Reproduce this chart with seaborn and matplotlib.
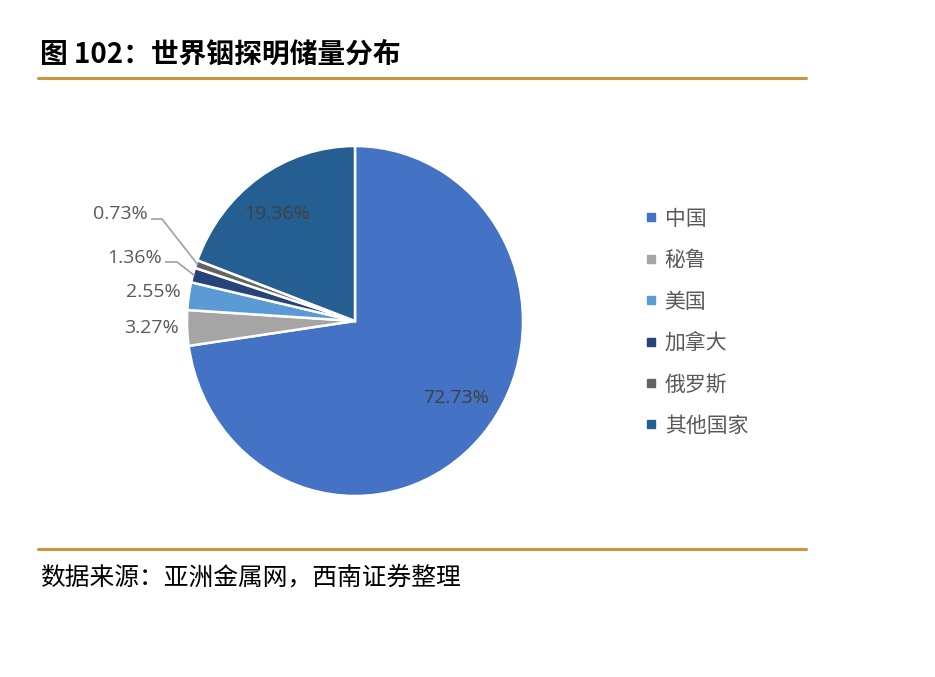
import numpy as np
import matplotlib
matplotlib.use("Agg")
import matplotlib.pyplot as plt
import seaborn as sns
from matplotlib.lines import Line2D

# ---- data ----
categories = ["中国", "秘鲁", "美国", "加拿大", "俄罗斯", "其他国家"]
shares = [72.73, 3.27, 2.55, 1.36, 0.73, 19.36]
colors = ["#4472C4", "#A5A5A5", "#5B9BD5", "#264478", "#636363", "#255E91"]
title_text = "图 102：世界铟探明储量分布"
source_text = "数据来源：亚洲金属网，西南证券整理"

sns.set_theme(style="white")
plt.rcParams["font.family"] = ["Noto Sans CJK SC", "DejaVu Sans"]

W, H = 935, 677
fig = plt.figure(figsize=(W / 100, H / 100), dpi=100)
fig.patch.set_facecolor("white")

def fx(px):
    return px / W

def fy(py):
    return 1 - py / H

# header / footer
fig.text(fx(40), fy(55), title_text, fontsize=20, fontweight="bold",
         color="black", va="center", ha="left")
gold = "#C8963E"
fig.add_artist(Line2D([fx(38), fx(806)], [fy(78), fy(78)], color=gold, lw=2.2))
fig.add_artist(Line2D([fx(38), fx(806)], [fy(549), fy(549)], color=gold, lw=2.2))
fig.text(fx(40), fy(578), source_text, fontsize=17.8, color="black",
         va="center", ha="left", style="italic")

# pie axes: center pixel (355,321), radii 168 (x) and 175 (y)
cx, cy, rx, ry = 355, 321, 168, 175
half = 220
ax = fig.add_axes([fx(cx - half), fy(cy + half), 2 * half / W, 2 * half / H])
palette = sns.color_palette(colors)
wedges, _ = ax.pie(shares, colors=palette, startangle=90, counterclock=False,
                   wedgeprops=dict(edgecolor="white", linewidth=1.8))
ax.set_aspect("auto")
ax.set_xlim(-half / rx, half / rx)
ax.set_ylim(-half / ry, half / ry)
ax.axis("off")

def d(px, py):
    return ((px - cx) / rx, (cy - py) / ry)

num_font = ["Open Sans", "DejaVu Sans"]
lab_color = "#595959"
fs = 14

# angles of wedge centres
cum = np.cumsum([0] + shares)
mids = [90 - 360 * (cum[i] + cum[i + 1]) / 200 for i in range(len(shares))]

def fmt(v):
    return f"{v:.2f}%"

# inside labels
for i, pos in [(0, (456, 398)), (5, (277, 214))]:
    ax.text(*d(*pos), fmt(shares[i]), ha="center", va="center",
            fontsize=fs, color="#404040", family=num_font)

# outside labels
outside = {1: (179, 328), 2: (181, 292), 3: (162, 258), 4: (148, 214)}
for i, pos in outside.items():
    ax.text(*d(*pos), fmt(shares[i]), ha="right", va="center",
            fontsize=fs, color=lab_color, family=num_font)

# leader lines for the two smallest slices
leaders = {4: [(151, 219), (162, 219)], 3: [(165, 262), (177, 262)]}
for i, pts in leaders.items():
    a = np.deg2rad(mids[i])
    end = (np.cos(a) * 0.99, np.sin(a) * 0.99)
    xs = [d(*p)[0] for p in pts] + [end[0]]
    ys = [d(*p)[1] for p in pts] + [end[1]]
    ax.plot(xs, ys, color="#A6A6A6", lw=1.3, solid_capstyle="butt")

# legend
handles = [Line2D([0], [0], marker="s", linestyle="", markersize=6,
                  markerfacecolor=c, markeredgecolor=c) for c in colors]
leg = fig.legend(handles, categories, loc="upper left",
                 bbox_to_anchor=(fx(624), fy(189)), frameon=False,
                 fontsize=15, labelcolor=lab_color, handletextpad=0.25,
                 handlelength=0.8, labelspacing=0.93)

fig.savefig("out.png", dpi=100, facecolor="white")
